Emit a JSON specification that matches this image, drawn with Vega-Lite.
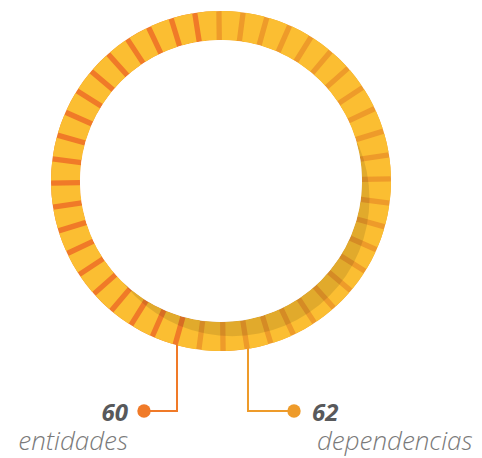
{
  "$schema": "https://vega.github.io/schema/vega-lite/v6.json",
  "width": 482,
  "height": 458,
  "padding": 0,
  "autosize": "none",
  "config": {"view": {"stroke": null}},
  "datasets": {
    "segmentos": [
      {"id": 0, "grupo": "dependencias", "n": 1}, {"id": 1, "grupo": "dependencias", "n": 1},
      {"id": 2, "grupo": "dependencias", "n": 1}, {"id": 3, "grupo": "dependencias", "n": 1},
      {"id": 4, "grupo": "dependencias", "n": 1}, {"id": 5, "grupo": "dependencias", "n": 1},
      {"id": 6, "grupo": "dependencias", "n": 1}, {"id": 7, "grupo": "dependencias", "n": 1},
      {"id": 8, "grupo": "dependencias", "n": 1}, {"id": 9, "grupo": "dependencias", "n": 1},
      {"id": 10, "grupo": "dependencias", "n": 1}, {"id": 11, "grupo": "dependencias", "n": 1},
      {"id": 12, "grupo": "dependencias", "n": 1}, {"id": 13, "grupo": "dependencias", "n": 1},
      {"id": 14, "grupo": "dependencias", "n": 1}, {"id": 15, "grupo": "dependencias", "n": 1},
      {"id": 16, "grupo": "dependencias", "n": 1}, {"id": 17, "grupo": "dependencias", "n": 1},
      {"id": 18, "grupo": "dependencias", "n": 1}, {"id": 19, "grupo": "dependencias", "n": 1},
      {"id": 20, "grupo": "dependencias", "n": 1}, {"id": 21, "grupo": "dependencias", "n": 1},
      {"id": 22, "grupo": "dependencias", "n": 1}, {"id": 23, "grupo": "dependencias", "n": 1},
      {"id": 24, "grupo": "entidades", "n": 1}, {"id": 25, "grupo": "entidades", "n": 1},
      {"id": 26, "grupo": "entidades", "n": 1}, {"id": 27, "grupo": "entidades", "n": 1},
      {"id": 28, "grupo": "entidades", "n": 1}, {"id": 29, "grupo": "entidades", "n": 1},
      {"id": 30, "grupo": "entidades", "n": 1}, {"id": 31, "grupo": "entidades", "n": 1},
      {"id": 32, "grupo": "entidades", "n": 1}, {"id": 33, "grupo": "entidades", "n": 1},
      {"id": 34, "grupo": "entidades", "n": 1}, {"id": 35, "grupo": "entidades", "n": 1},
      {"id": 36, "grupo": "entidades", "n": 1}, {"id": 37, "grupo": "entidades", "n": 1},
      {"id": 38, "grupo": "entidades", "n": 1}, {"id": 39, "grupo": "entidades", "n": 1},
      {"id": 40, "grupo": "entidades", "n": 1}, {"id": 41, "grupo": "entidades", "n": 1},
      {"id": 42, "grupo": "entidades", "n": 1}, {"id": 43, "grupo": "entidades", "n": 1}
    ],
    "guias": [
      {"grupo": "entidades", "orden": 0, "px": -0.2588, "py": -0.965},
      {"grupo": "entidades", "orden": 1, "px": -0.2588, "py": -1.353},
      {"grupo": "entidades", "orden": 2, "px": -0.453, "py": -1.353},
      {"grupo": "dependencias", "orden": 0, "px": 0.1588, "py": -0.965},
      {"grupo": "dependencias", "orden": 1, "px": 0.1588, "py": -1.353},
      {"grupo": "dependencias", "orden": 2, "px": 0.4294, "py": -1.353}
    ],
    "puntos": [
      {"grupo": "entidades", "px": -0.453, "py": -1.353},
      {"grupo": "dependencias", "px": 0.4294, "py": -1.353}
    ],
    "etiquetas": [
      {"grupo": "entidades", "valor": "60", "px": -0.547, "py": -1.409, "pylab": -1.582},
      {"grupo": "dependencias", "valor": "62", "px": 0.535, "py": -1.409, "pylab": -1.582}
    ]
  },
  "layer": [
    {
      "data": {"name": "segmentos"},
      "mark": {"type": "arc", "radius": 170, "radius2": 141},
      "encoding": {
        "x": {"datum": 0, "type": "quantitative", "scale": {"domain": [-1.3, 1.5353], "nice": false, "zero": false}, "axis": null},
        "y": {"datum": 0, "type": "quantitative", "scale": {"domain": [-1.6294, 1.0647], "nice": false, "zero": false}, "axis": null},
        "theta": {"field": "n", "type": "quantitative", "stack": true, "scale": {"range": [-0.0836, 6.1996]}},
        "order": {"field": "id"},
        "color": {
          "field": "grupo",
          "type": "nominal",
          "scale": {"domain": ["entidades", "dependencias"], "range": ["#F07A28", "#EE9B2A"]},
          "legend": null
        }
      }
    },
    {
      "data": {"name": "segmentos"},
      "mark": {"type": "arc", "radius": 170, "radius2": 141, "padAngle": 0.024, "color": "#FBBE32"},
      "encoding": {
        "x": {"datum": 0, "type": "quantitative"},
        "y": {"datum": 0, "type": "quantitative"},
        "theta": {"field": "n", "type": "quantitative", "stack": true, "scale": {"range": [-0.0122, 6.271]}},
        "order": {"field": "id"}
      }
    },
    {
      "data": {"values": [{}]},
      "mark": {"type": "arc", "radius": 137.4, "theta": 0, "theta2": 6.2832, "color": "#000000", "opacity": 0.1, "xOffset": 11.1, "yOffset": 17.8},
      "encoding": {
        "x": {"datum": 0, "type": "quantitative"},
        "y": {"datum": 0, "type": "quantitative"}
      }
    },
    {
      "data": {"values": [{}]},
      "mark": {"type": "arc", "radius": 141, "theta": 0, "theta2": 6.2832, "color": "#ffffff"},
      "encoding": {
        "x": {"datum": 0, "type": "quantitative"},
        "y": {"datum": 0, "type": "quantitative"}
      }
    },
    {
      "data": {"name": "guias"},
      "mark": {"type": "line", "strokeWidth": 2},
      "encoding": {
        "x": {"field": "px", "type": "quantitative"},
        "y": {"field": "py", "type": "quantitative"},
        "order": {"field": "orden"},
        "color": {"field": "grupo", "type": "nominal", "legend": null}
      }
    },
    {
      "data": {"name": "puntos"},
      "mark": {"type": "point", "filled": true, "opacity": 1, "size": 180},
      "encoding": {
        "x": {"field": "px", "type": "quantitative"},
        "y": {"field": "py", "type": "quantitative"},
        "color": {"field": "grupo", "type": "nominal", "legend": null}
      }
    },
    {
      "data": {"name": "etiquetas"},
      "transform": [{"filter": "datum.grupo == 'entidades'"}],
      "mark": {"type": "text", "align": "right", "baseline": "alphabetic", "font": "Open Sans", "fontSize": 24, "fontWeight": "bold", "fontStyle": "italic", "color": "#58595B"},
      "encoding": {
        "x": {"field": "px", "type": "quantitative"},
        "y": {"field": "py", "type": "quantitative"},
        "text": {"field": "valor"}
      }
    },
    {
      "data": {"name": "etiquetas"},
      "transform": [{"filter": "datum.grupo == 'dependencias'"}],
      "mark": {"type": "text", "align": "left", "baseline": "alphabetic", "font": "Open Sans", "fontSize": 24, "fontWeight": "bold", "fontStyle": "italic", "color": "#58595B"},
      "encoding": {
        "x": {"field": "px", "type": "quantitative"},
        "y": {"field": "py", "type": "quantitative"},
        "text": {"field": "valor"}
      }
    },
    {
      "data": {"name": "etiquetas"},
      "transform": [{"filter": "datum.grupo == 'entidades'"}],
      "mark": {"type": "text", "align": "right", "baseline": "alphabetic", "font": "Open Sans", "fontSize": 26, "fontWeight": 300, "fontStyle": "italic", "color": "#7A7A7A"},
      "encoding": {
        "x": {"field": "px", "type": "quantitative"},
        "y": {"field": "pylab", "type": "quantitative"},
        "text": {"field": "grupo"}
      }
    },
    {
      "data": {"name": "etiquetas"},
      "transform": [{"filter": "datum.grupo == 'dependencias'"}],
      "mark": {"type": "text", "align": "left", "baseline": "alphabetic", "dx": 5, "font": "Open Sans", "fontSize": 26, "fontWeight": 300, "fontStyle": "italic", "color": "#7A7A7A"},
      "encoding": {
        "x": {"field": "px", "type": "quantitative"},
        "y": {"field": "pylab", "type": "quantitative"},
        "text": {"field": "grupo"}
      }
    }
  ],
  "resolve": {"scale": {"theta": "independent"}}
}
